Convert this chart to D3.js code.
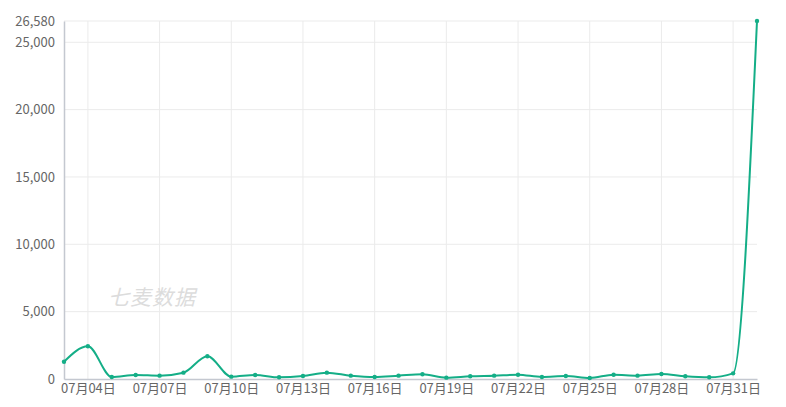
<!DOCTYPE html>
<html>
<head>
<meta charset="utf-8">
<script src="https://cdn.jsdelivr.net/npm/d3@7"></script>
<style>
  body { margin: 0; background: #fff; }
  text { font-family: "Noto Sans CJK SC", "Noto Sans", sans-serif; }
</style>
</head>
<body>
<div id="chart"></div>
<script>
// data
var dates = ["07月03日","07月04日","07月05日","07月06日","07月07日","07月08日","07月09日","07月10日",
  "07月11日","07月12日","07月13日","07月14日","07月15日","07月16日","07月17日","07月18日","07月19日",
  "07月20日","07月21日","07月22日","07月23日","07月24日","07月25日","07月26日","07月27日","07月28日",
  "07月29日","07月30日","07月31日","08月01日"];
var values = [1285, 2430, 150, 300, 250, 470, 1690, 175, 300, 125, 220, 470, 250, 150, 250, 350, 100,
  200, 250, 320, 150, 220, 75, 320, 250, 370, 200, 125, 420, 26580];
var yTicks = [0, 5000, 10000, 15000, 20000, 25000, 26580];

var width = 786, height = 407;
var margin = { top: 21, right: 29, bottom: 28, left: 64 };
var lineColor = "#14ae87";

var svg = d3.select("#chart").append("svg")
  .attr("width", width)
  .attr("height", height);

var x = d3.scalePoint()
  .domain(dates)
  .range([margin.left, width - margin.right]);

var y = d3.scaleLinear()
  .domain([0, d3.max(values)])
  .range([height - margin.bottom, margin.top]);

// horizontal grid
svg.append("g")
  .selectAll("line")
  .data(yTicks.filter(function (d) { return d > 0; }))
  .enter().append("line")
  .attr("x1", margin.left).attr("x2", width - margin.right)
  .attr("y1", function (d) { return y(d); })
  .attr("y2", function (d) { return y(d); })
  .attr("stroke", "#ebebeb").attr("stroke-width", 1);

// vertical grid, every 3rd day
var shown = dates.filter(function (d, i) { return i % 3 === 1; });
svg.append("g")
  .selectAll("line")
  .data(shown)
  .enter().append("line")
  .attr("x1", function (d) { return x(d); })
  .attr("x2", function (d) { return x(d); })
  .attr("y1", margin.top).attr("y2", height - margin.bottom)
  .attr("stroke", "#ebebeb").attr("stroke-width", 1);

// axes
var yAxis = svg.append("g")
  .attr("transform", "translate(" + margin.left + ",0)")
  .call(d3.axisLeft(y).tickValues(yTicks).tickSize(0).tickPadding(9)
    .tickFormat(d3.format(",")));
yAxis.select(".domain").attr("stroke", "#c4c8d0").attr("stroke-width", 1.5);
yAxis.selectAll("text").attr("fill", "#666").style("font-size", "13px");

var xAxis = svg.append("g")
  .attr("transform", "translate(0," + (height - margin.bottom) + ")")
  .call(d3.axisBottom(x).tickValues(shown).tickSize(0).tickPadding(5));
xAxis.select(".domain").attr("stroke", "#c4c8d0").attr("stroke-width", 1.5);
xAxis.selectAll("text").attr("fill", "#666").style("font-size", "13px");

// watermark
svg.append("text")
  .attr("x", 152).attr("y", 305)
  .attr("text-anchor", "middle")
  .attr("fill", "#dcdcdc")
  .style("font-size", "21px")
  .style("font-style", "italic")
  .style("letter-spacing", "1px")
  .text("七麦数据");

// line
var line = d3.line()
  .x(function (d, i) { return x(dates[i]); })
  .y(function (d) { return y(d); })
  .curve(d3.curveMonotoneX);

svg.append("path")
  .datum(values)
  .attr("d", line)
  .attr("fill", "none")
  .attr("stroke", lineColor)
  .attr("stroke-width", 2);

svg.append("g")
  .selectAll("circle")
  .data(values)
  .enter().append("circle")
  .attr("cx", function (d, i) { return x(dates[i]); })
  .attr("cy", function (d) { return y(d); })
  .attr("r", 2.2)
  .attr("fill", lineColor);
</script>
</body>
</html>
